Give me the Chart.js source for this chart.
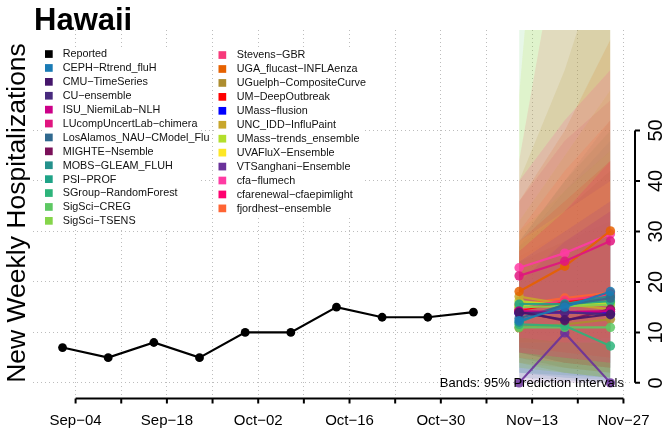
<!DOCTYPE html>
<html>
<head>
<meta charset="utf-8">
<script src="https://cdn.jsdelivr.net/npm/chart.js@4.4.0/dist/chart.umd.min.js"></script>
<style>
  html, body { margin: 0; padding: 0; background: #fff; }
  #wrap { width: 666px; height: 432px; }
</style>
</head>
<body>
<div id="wrap"><canvas id="chart" width="666" height="432"></canvas></div>
<script>
// days counted from Sep-04
const reportedDays = [-2, 5, 12, 19, 26, 33, 40, 47, 54, 61];
const reportedValues = [7, 5, 8, 5, 10, 10, 15, 13, 13, 14];
const forecastDays = [68, 75, 82];

const weekTicks = [0, 7, 14, 21, 28, 35, 42, 49, 56, 63, 70, 77, 84];
const weekLabels = ['Sep\u221204', 'Sep\u221211', 'Sep\u221218', 'Sep\u221225', 'Oct\u221202', 'Oct\u221209',
  'Oct\u221216', 'Oct\u221223', 'Oct\u221230', 'Nov\u221206', 'Nov\u221213', 'Nov\u221220', 'Nov\u221227'];
const yTicks = [0, 10, 20, 30, 40, 50];

const models = ['CEPH-Rtrend_fluH', 'CMU-TimeSeries', 'CU-ensemble', 'ISU_NiemiLab-NLH',
  'LUcompUncertLab-chimera', 'LosAlamos_NAU-CModel_Flu', 'MIGHTE-Nsemble', 'MOBS-GLEAM_FLUH',
  'PSI-PROF', 'SGroup-RandomForest', 'SigSci-CREG', 'SigSci-TSENS',
  'Stevens-GBR', 'UGA_flucast-INFLAenza', 'UGuelph-CompositeCurve', 'UM-DeepOutbreak',
  'UMass-flusion', 'UNC_IDD-InfluPaint', 'UMass-trends_ensemble', 'UVAFluX-Ensemble',
  'VTSanghani-Ensemble', 'cfa-flumech', 'cfarenewal-cfaepimlight', 'fjordhest-ensemble'];
const modelColors = ['#1a7bb5', '#45166b', '#482a7e', '#cc0088', '#e0157f', '#30698f', '#7a1059', '#24918c',
  '#1fa387', '#2db47b', '#5dc863', '#85d54a', '#f7397a', '#e66100', '#ad8d2f', '#ff0000',
  '#0000ff', '#c8a62b', '#b3df2c', '#fde725', '#6a329a', '#ff3ba3', '#ff0070', '#ff6433'];

// median, lower 95%, upper 95% at Nov-11, Nov-18, Nov-25
const medians = [[12.3, 15.0, 18.1], [14.0, 12.5, 13.6], [13.8, 14.0, 13.5], [14.2, 14.0, 14.2],
  [21.2, 24.1, 28.1], [12.8, 15.4, 16.8], [14.2, 12.3, 14.6], [12.0, 15.6, 17.2],
  [15.6, 15.6, 16.2], [11.6, 11.3, 7.3], [11.0, 11.0, 11.0], [15.0, 15.2, 15.5],
  [14.6, 16.4, 17.4], [18.1, 23.1, 30.1], [10.9, 11.6, 12.6], [14.4, 16.0, 17.6],
  [13.8, 14.0, 13.8], [17.1, 15.6, 14.6], [16.2, 15.3, 16.0], [15.2, 15.8, 15.8],
  [0, 9.9, 0], [22.8, 25.7, 29.5], [13.9, 14.0, 14.1], [15.5, 16.8, 17.9]];
const lower95 = [[2, 1, 0.5], [6, 4, 3], [5, 3, 2], [6, 4, 3],
  [10, 9, 8], [1, 0.5, 0], [6, 4, 3], [2, 1.5, 1],
  [6, 4, 3], [4, 2, 1], [3, 2, 1], [5, 3, 2],
  [6, 5, 4], [8, 8, 9], [4, 3, 2], [7, 6, 5],
  [6, 5, 4], [4, 2, 1], [3, 2, 1], [6, 5, 4],
  [0, 0, 0], [9, 8, 8], [6, 5, 4], [5, 4, 3]];
const upper95 = [[28, 40, 52], [24, 28, 32], [26, 34, 42], [25, 30, 36],
  [36, 48, 56], [27, 38, 48], [24, 28, 34], [28, 40, 50],
  [27, 34, 42], [22, 26, 28], [75, 150, 200], [30, 38, 46],
  [44, 95, 140], [36, 50, 68], [40, 62, 90], [28, 36, 44],
  [24, 30, 36], [32, 45, 58], [57, 160, 220], [28, 34, 40],
  [20, 28, 34], [40, 52, 62], [26, 34, 44], [30, 42, 52]];

const rgba = (hex, a) => {
  const n = parseInt(hex.slice(1), 16);
  return `rgba(${(n >> 16) & 255}, ${(n >> 8) & 255}, ${n & 255}, ${a})`;
};
const pts = (xs, ys) => xs.map((x, i) => ({ x: x, y: ys[i] }));

Chart.defaults.font.family = "'Liberation Sans', Arial, sans-serif";
Chart.defaults.color = '#000';

const datasets = [];
datasets.push({
  label: 'Reported', data: pts(reportedDays, reportedValues),
  borderColor: '#000', backgroundColor: '#000', borderWidth: 2.2,
  pointRadius: 4.4, pointBorderWidth: 0, order: 0
});
models.forEach((m, i) => {
  datasets.push({
    label: m, data: pts(forecastDays, medians[i]),
    borderColor: rgba(modelColors[i], 0.9), backgroundColor: rgba(modelColors[i], 0.85),
    borderWidth: 2.2, pointRadius: 4.7, pointBorderWidth: 0, order: 1
  });
});
// bands: first model drawn first (underneath)
models.forEach((m, i) => {
  const lo = datasets.length;
  const ord = 100 + 2 * (models.length - i);
  datasets.push({
    label: m + ' lower', data: pts(forecastDays, lower95[i]),
    borderWidth: 0, pointRadius: 0, fill: false, order: ord + 1
  });
  datasets.push({
    label: m + ' upper', data: pts(forecastDays, upper95[i]),
    borderWidth: 0, pointRadius: 0, fill: lo, backgroundColor: rgba(modelColors[i], 0.15), order: ord
  });
});

const legendCols = [
  { names: ['Reported'].concat(models.slice(0, 12)), colors: ['#000'].concat(modelColors.slice(0, 12)),
    box: [43, 47, 157, 180], sq: 45, tx: 62.7, y0: 54, step: 13.9 },
  { names: models.slice(12), colors: modelColors.slice(12),
    box: [214, 48, 150, 168], sq: 218.5, tx: 236.7, y0: 55, step: 13.94 }
];

const rDecor = {
  id: 'rDecor',
  beforeDatasetsDraw(chart) {
    const ctx = chart.ctx;
    ctx.save();
    ctx.fillStyle = '#fff';
    legendCols.forEach(c => ctx.fillRect(c.box[0], c.box[1], c.box[2], c.box[3]));
    ctx.restore();
  },
  afterDraw(chart) {
    const ctx = chart.ctx;
    const x = chart.scales.x, y = chart.scales.y;
    ctx.save();
    // legend
    ctx.font = "10.8px 'Liberation Sans', Arial, sans-serif";
    ctx.textBaseline = 'middle';
    ctx.textAlign = 'left';
    legendCols.forEach(c => {
      c.names.forEach((n, i) => {
        const yy = c.y0 + i * c.step;
        ctx.fillStyle = c.colors[i];
        ctx.fillRect(c.sq, yy - 3.8, 7.7, 7.7);
        ctx.fillStyle = '#111';
        ctx.fillText(n.replace(/-/g, '\u2212'), c.tx, yy + 0.5);
      });
    });
    // R style axes
    ctx.strokeStyle = '#000';
    ctx.lineWidth = 2;
    ctx.beginPath();
    const ax = 398.5;
    ctx.moveTo(x.getPixelForValue(weekTicks[0]), ax);
    ctx.lineTo(x.getPixelForValue(weekTicks[weekTicks.length - 1]), ax);
    weekTicks.forEach(v => {
      const px = x.getPixelForValue(v);
      ctx.moveTo(px, ax);
      ctx.lineTo(px, ax + 5);
    });
    const ay = 635;
    ctx.moveTo(ay, y.getPixelForValue(yTicks[0]));
    ctx.lineTo(ay, y.getPixelForValue(yTicks[yTicks.length - 1]));
    yTicks.forEach(v => {
      const py = y.getPixelForValue(v);
      ctx.moveTo(ay, py);
      ctx.lineTo(ay + 5, py);
    });
    ctx.stroke();
    // title and note
    ctx.fillStyle = '#000';
    ctx.textBaseline = 'alphabetic';
    ctx.font = "bold 31px 'Liberation Sans', Arial, sans-serif";
    ctx.fillText('Hawaii', 34, 30);
    ctx.font = "13px 'Liberation Sans', Arial, sans-serif";
    ctx.textAlign = 'right';
    ctx.fillText('Bands: 95% Prediction Intervals', 624, 387);
    ctx.restore();
  }
};

new Chart(document.getElementById('chart'), {
  type: 'line',
  data: { datasets: datasets },
  options: {
    responsive: false,
    animation: false,
    devicePixelRatio: 1,
    layout: { padding: { top: 30, left: 0, right: 0, bottom: 0 } },
    plugins: { legend: { display: false }, tooltip: { enabled: false }, title: { display: false } },
    elements: { line: { tension: 0 } },
    scales: {
      x: {
        type: 'linear', position: 'bottom', min: -6.53, max: 85.4,
        afterBuildTicks: s => { s.ticks = weekTicks.map(v => ({ value: v })); },
        afterFit: s => { s.height = 36; },
        border: { display: false, dash: [1, 3] },
        grid: { color: '#bdbdbd', lineWidth: 1, drawTicks: false },
        ticks: {
          autoSkip: false, maxRotation: 0, minRotation: 0, padding: 16,
          font: { size: 15 }, color: '#000',
          callback: (v, i) => (i % 2 === 0 ? weekLabels[i] : '')
        }
      },
      y: {
        type: 'linear', position: 'right', min: -2.6, max: 69.9,
        afterBuildTicks: s => { s.ticks = yTicks.map(v => ({ value: v })); },
        afterFit: s => { s.width = 32; },
        border: { display: false, dash: [1, 3] },
        grid: { color: '#bdbdbd', lineWidth: 1, drawTicks: false },
        ticks: { minRotation: 90, maxRotation: 90, crossAlign: 'center', padding: 13, font: { size: 20 }, color: '#000' }
      },
      yl: {
        type: 'linear', position: 'left', display: true,
        afterFit: s => { s.width = 33; },
        border: { display: false },
        grid: { display: false },
        ticks: { display: false },
        title: { display: true, text: 'New Weekly Hospitalizations', font: { size: 26.5 }, color: '#000', padding: { top: 2, bottom: 0 } }
      }
    }
  },
  plugins: [rDecor]
});
</script>
</body>
</html>
